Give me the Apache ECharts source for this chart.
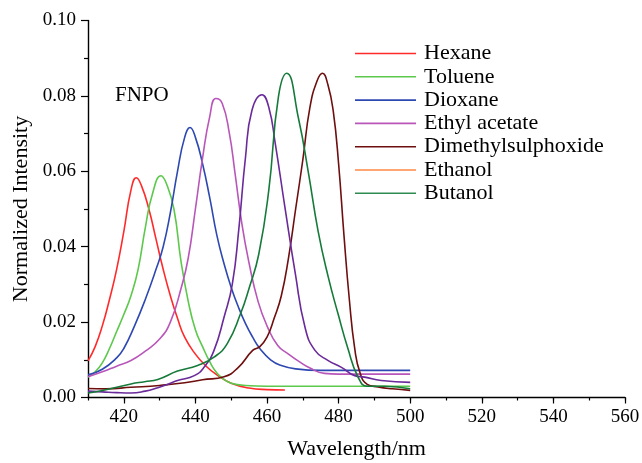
<!DOCTYPE html>
<html><head><meta charset="utf-8">
<script src="https://cdn.jsdelivr.net/npm/echarts@6/dist/echarts.min.js"></script>
<style>html,body{margin:0;padding:0;background:#fff}#c{width:642px;height:463px}</style>
</head><body><div id="c"></div>
<script>
// ---- data ----
const seriesNames = ['Hexane','Toluene','Dioxane','Ethyl acetate','Dimethylsulphoxide','Ethanol','Butanol'];

const hexaneWl = [410,412,414,416,418,420,422,423.5,425,427,429,431,433,435,437,440,443,446,450,455,460,465];
const hexaneI  = [0.0097,0.0135,0.019,0.026,0.034,0.044,0.055,0.0583,0.056,0.050,0.042,0.034,0.027,0.021,0.016,0.0115,0.0083,0.006,0.0038,0.0025,0.0021,0.002];

const tolueneWl = [410,412,414,416,418,420,422,424,426,428,430.4,432,434,436,438,440,442,444,446,448,450,454,460,470,480,490,500];
const tolueneI  = [0.0054,0.0068,0.0092,0.013,0.0175,0.022,0.027,0.034,0.045,0.054,0.0588,0.0565,0.050,0.036,0.0255,0.018,0.0135,0.0095,0.0065,0.0048,0.0038,0.0032,0.003,0.003,0.003,0.003,0.003];

const dioxaneWl = [410,414,418,420,423,426,429,431,433,435,437,438.5,440,442,444,446,448,450,452,454,456,458,461,464,468,475,500];
const dioxaneI  = [0.006,0.0075,0.0105,0.013,0.019,0.026,0.034,0.040,0.049,0.060,0.069,0.0716,0.069,0.062,0.053,0.043,0.0355,0.0292,0.024,0.0196,0.016,0.013,0.010,0.0085,0.0076,0.0072,0.0072];

const ethylWl = [410,414,418,422,426,430,433,436,438,440,442,444,445.7,447.5,449.5,451,453,455,457.5,460,463,466,469,472,476,480,500];
const ethylI  = [0.0055,0.0068,0.0083,0.0098,0.0123,0.0155,0.020,0.029,0.037,0.050,0.0635,0.0745,0.0793,0.078,0.070,0.060,0.046,0.0356,0.0255,0.019,0.0138,0.0115,0.0095,0.0078,0.0064,0.0062,0.0062];

const dmsoWl = [410,415,422,430,437,442,448,452,456,458,460,462,464,466,468,470,472,474,475.5,477,478.5,480,481.5,483,484.5,486,488,491,495,500];
const dmsoI  = [0.0024,0.0023,0.0027,0.0032,0.0039,0.0047,0.0055,0.008,0.0125,0.0135,0.016,0.021,0.027,0.037,0.050,0.063,0.077,0.084,0.086,0.083,0.076,0.062,0.043,0.026,0.013,0.0065,0.0035,0.0028,0.0023,0.0019];

const ethanolWl = [410,414,418,422,426,429.5,432,435,439.7,442.4,445.2,448,450.3,452.1,454,455.8,458.6,460.5,462.3,465,467.9,470.6,473.4,477.1,480.8,484.5,487.3,491.9,500];
const ethanolI  = [0.0017,0.0015,0.0013,0.0012,0.0017,0.0026,0.0034,0.0045,0.0058,0.008,0.0125,0.0213,0.030,0.0444,0.0638,0.0762,0.0803,0.077,0.0674,0.0505,0.0329,0.0187,0.0125,0.0098,0.008,0.0058,0.0054,0.0045,0.004];

const butanolWl = [410,414.7,422,425.8,429.5,435,440.6,445.2,448.9,452.6,455,457.7,460.5,463.2,465.5,468.8,471.5,474.3,477.1,479.9,482.6,485.4,488,492.8,500];
const butanolI  = [0.0012,0.002,0.0036,0.0042,0.0048,0.007,0.0085,0.0107,0.0143,0.0222,0.029,0.038,0.055,0.0798,0.086,0.074,0.060,0.044,0.032,0.022,0.013,0.0055,0.003,0.003,0.0023];

const xLabelValues = [420,440,460,480,500,520,540,560];

// ---- styling ----
const lineColors = ['#FF2A2A','#5CC84C','#2E48B2','#B956B9','#6E0E0E','#6A2A9A','#167A3A'];
const legendColors = ['#FF2A2A','#5CC84C','#2E48B2','#B956B9','#6E0E0E','#FF8844','#2E8B50'];
const wls = [hexaneWl,tolueneWl,dioxaneWl,ethylWl,dmsoWl,ethanolWl,butanolWl];
const ints = [hexaneI,tolueneI,dioxaneI,ethylI,dmsoI,ethanolI,butanolI];

const FONT = '"Liberation Serif", "Times New Roman", serif';

const series = seriesNames.map((n,i)=>({
  name:n, type:'line', symbol:'none', smooth:0.5,
  data: wls[i].map((w,k)=>[w,ints[i][k]]),
  lineStyle:{color:lineColors[i], width:1.6},
  itemStyle:{color:legendColors[i]},
  animation:false
}));

const chart = echarts.init(document.getElementById('c'));
chart.setOption({
  animation:false,
  backgroundColor:'#fff',
  grid:{left:88, right:17, top:20.5, bottom:65.5, containLabel:false, outerBoundsMode:'none'},
  legend:{
    orient:'vertical', left:350, top:37, icon:'rect', itemWidth:61, itemHeight:1.6, itemGap:0.3,
    data: seriesNames.map((n,i)=>({name:n, itemStyle:{color:legendColors[i]}})),
    textStyle:{fontFamily:FONT, fontSize:22, lineHeight:23, color:'#000', padding:[0,0,0,3]},
    selectedMode:false
  },
  xAxis:[{
    type:'value', min:410, max:560, interval:10,
    name:'Wavelength/nm', nameLocation:'middle', nameGap:41,
    nameTextStyle:{fontFamily:FONT, fontSize:22, color:'#000'},
    axisLine:{lineStyle:{color:'#000', width:1.4}},
    axisTick:{length:3, lineStyle:{color:'#000', width:1.2}},
    axisLabel:{customValues:xLabelValues, fontFamily:FONT, fontSize:19, color:'#000', margin:10},
    splitLine:{show:false}
  },{
    type:'value', min:410, max:560, position:'bottom',
    axisLine:{show:false},
    axisTick:{show:true, customValues:xLabelValues, length:6, lineStyle:{color:'#000', width:1.2}},
    axisLabel:{show:false},
    splitLine:{show:false}
  }],
  yAxis:{
    type:'value', min:0, max:0.10, interval:0.02,
    name:'Normalized Intensity', nameLocation:'middle', nameGap:54,
    nameTextStyle:{fontFamily:FONT, fontSize:22, color:'#000'},
    axisLine:{show:true, lineStyle:{color:'#000', width:1.4}},
    axisTick:{show:true, length:7, lineStyle:{color:'#000', width:1.2}},
    minorTick:{show:true, splitNumber:2, length:4, lineStyle:{color:'#000', width:1.2}},
    axisLabel:{fontFamily:FONT, fontSize:19, color:'#000', margin:12, formatter:v=>v.toFixed(2)},
    splitLine:{show:false}
  },
  graphic:[{type:'text', left:115, top:85, style:{text:'FNPO', font:'21px '+FONT, fill:'#000'}}],
  series: series
});
</script></body></html>
